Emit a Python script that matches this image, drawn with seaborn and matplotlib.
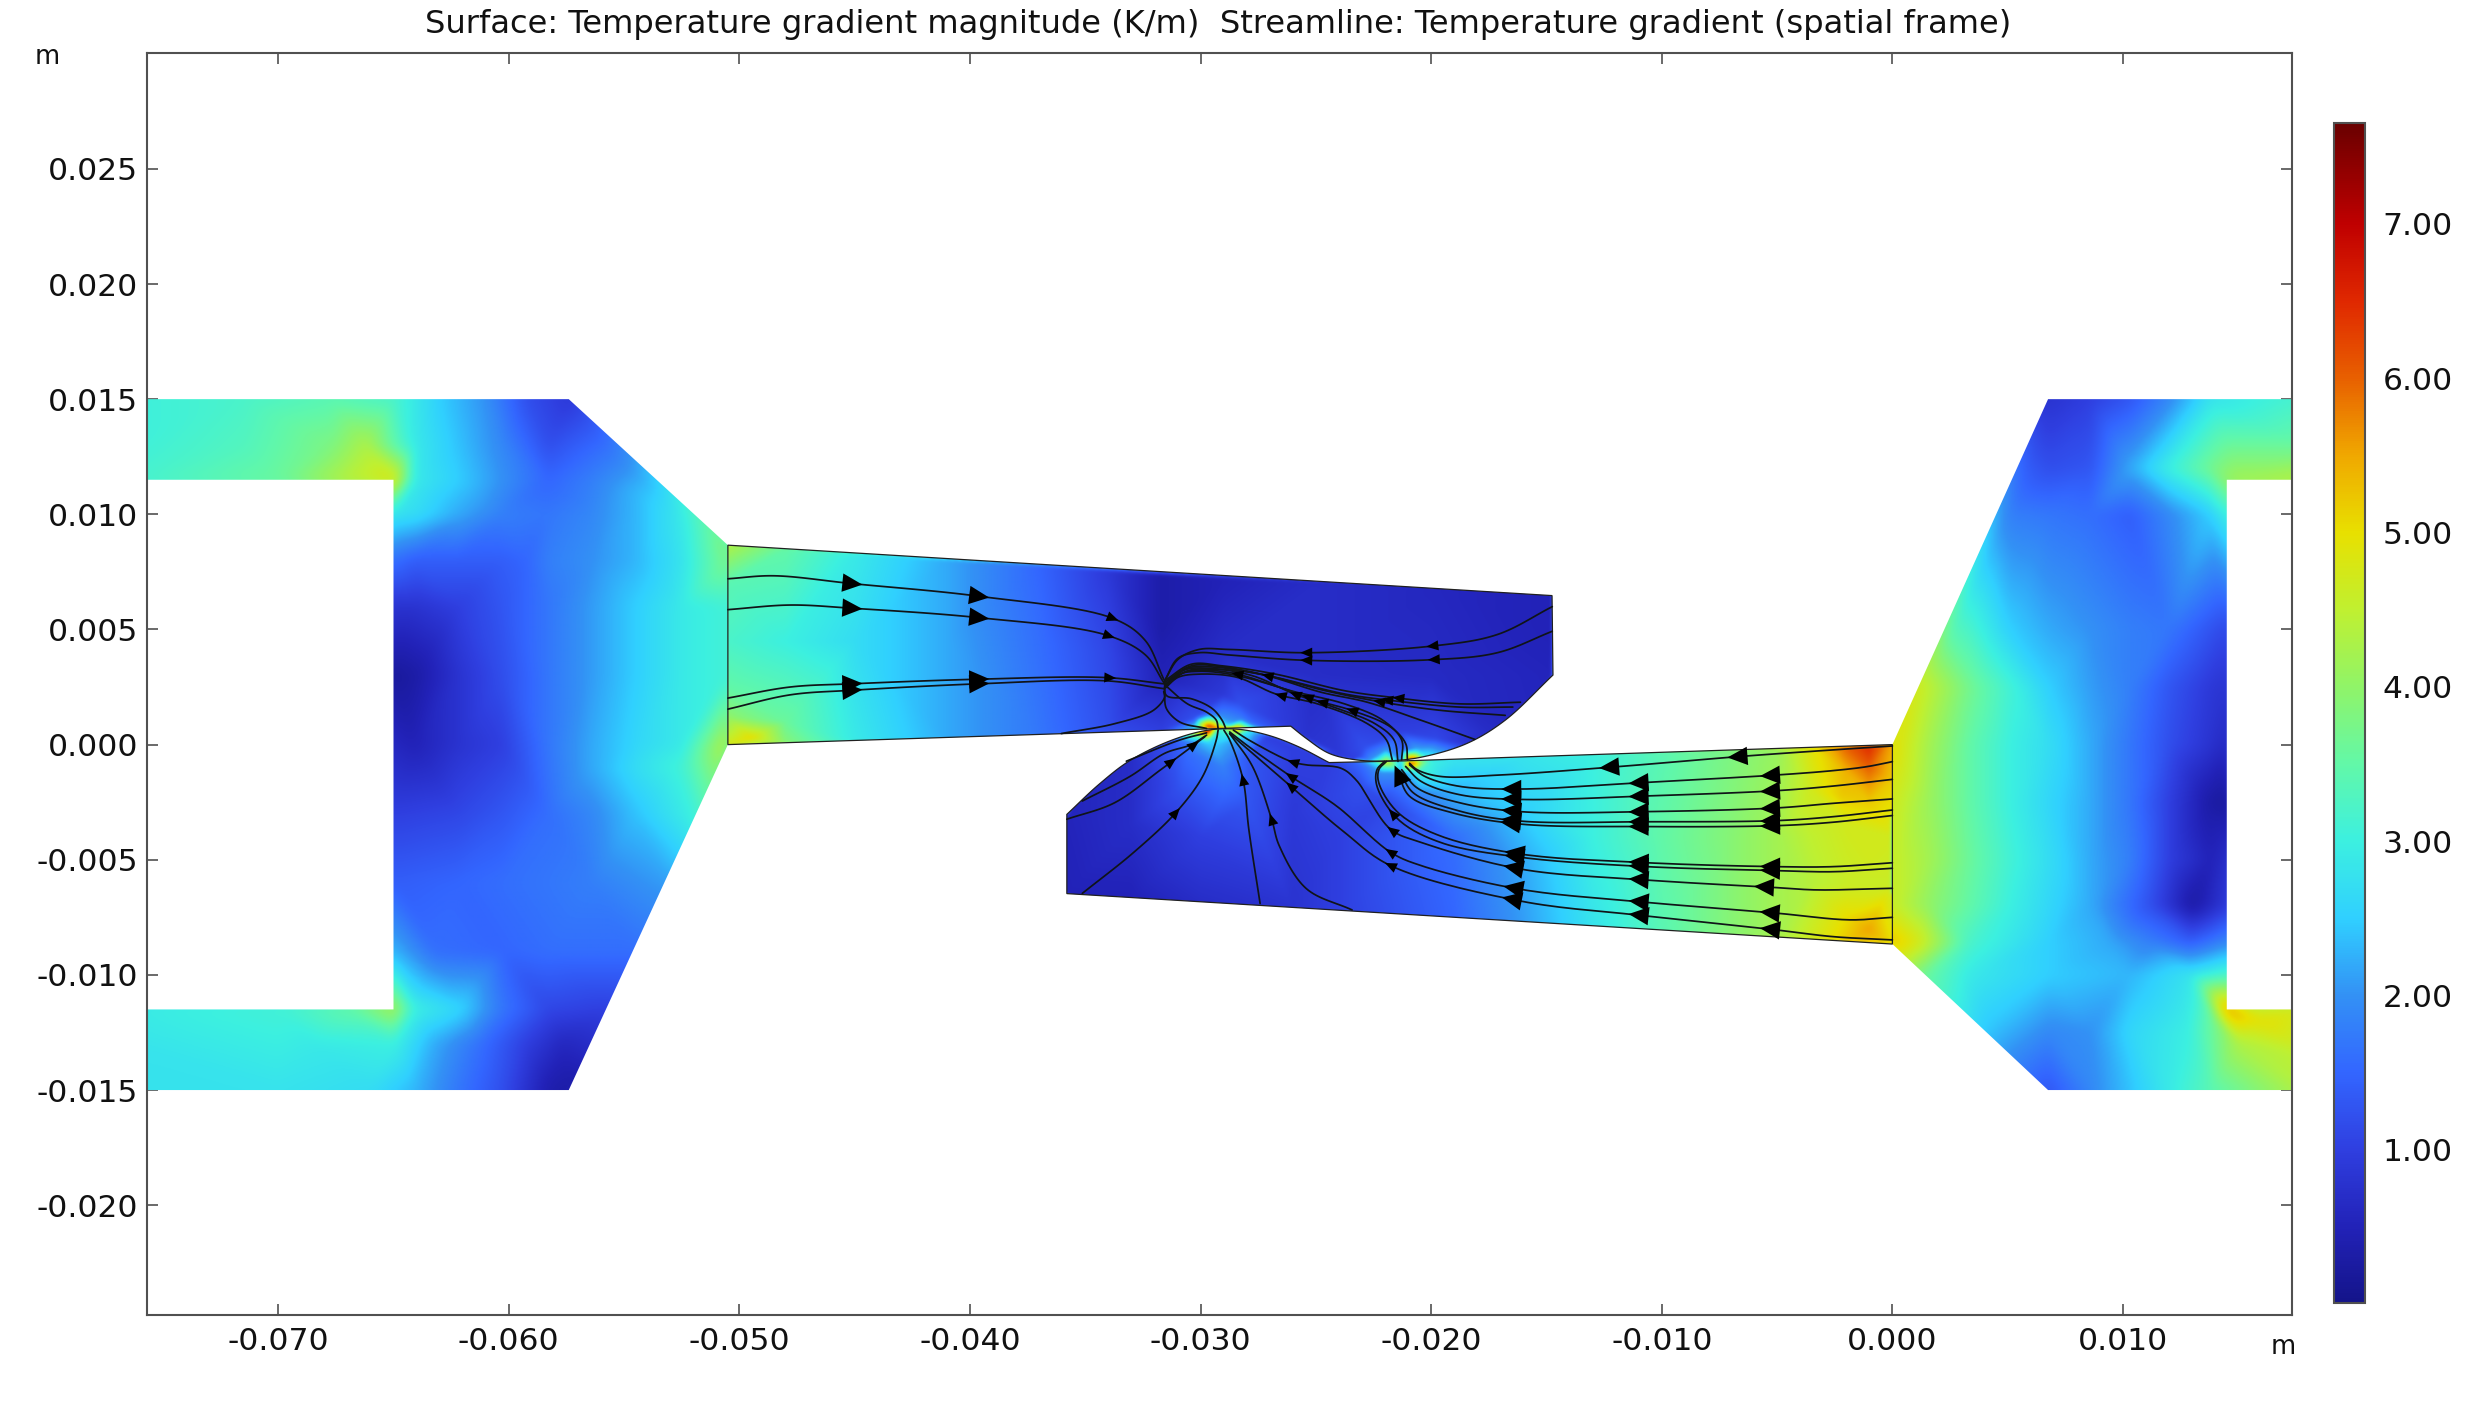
import numpy as np
import matplotlib
matplotlib.use("Agg")
import matplotlib.pyplot as plt
import matplotlib.tri as mtri
from matplotlib.colors import LinearSegmentedColormap
from matplotlib.patches import Polygon
import seaborn as sns

sns.set_theme(style="white")
plt.rcParams["font.family"] = ["DejaVu Sans"]

TITLE = "Surface: Temperature gradient magnitude (K/m)  Streamline: Temperature gradient (spatial frame)"
X_TICKS = [-0.070, -0.060, -0.050, -0.040, -0.030, -0.020, -0.010, 0.000, 0.010]
Y_TICKS = [-0.020, -0.015, -0.010, -0.005, 0.000, 0.005, 0.010, 0.015, 0.020, 0.025]
CB_TICKS = [1, 2, 3, 4, 5, 6, 7]
V_MIN, V_MAX = 0.01, 7.65
CMAP_VALUES = [0.01, 0.5, 1.0, 1.5, 2.0, 2.5, 3.0, 3.5, 4.0, 4.5, 5.0, 5.5, 6.0, 6.5, 7.0, 7.65]
CMAP_COLORS = ["#14148a", "#2222b8", "#2f3fe0", "#3366ff", "#3391f5", "#30d0ff", "#3cf0e0", "#62f8a8",
               "#90f468", "#c0f030", "#e8e000", "#f0a800", "#e86000", "#e02800", "#c00000", "#6a0000"]

# geometry outlines, mm
LEFT_BLOCK = [(-77, 15), (-57.4, 15), (-50.5, 8.66), (-50.5, 0), (-57.4, -15), (-77, -15), (-77, -11.5),
              (-65, -11.5), (-65, 11.5), (-77, 11.5)]
RIGHT_BLOCK = [(0, 0), (6.75, 15), (18, 15), (18, 11.5), (14.5, 11.5), (14.5, -11.5), (18, -11.5), (18, -15),
               (6.75, -15), (0, -8.66)]
UPPER_STRAIGHT = [(-26.09, 0.80), (-50.5, 0), (-50.5, 8.66), (-14.76, 6.47)]
UPPER_CURVE = [(-14.72, 3.02), (-16.79, 1.06), (-18.45, 0.05), (-20.45, -0.55), (-21.94, -0.71), (-23.27, -0.66),
               (-24.43, -0.38), (-25.42, 0.27), (-26.09, 0.80)]
LOWER_STRAIGHT = [(-24.43, -0.78), (-21.28, -0.71), (0, 0), (0, -8.66), (-35.8, -6.47)]
LOWER_CURVE = [(-35.8, -3.03), (-34.4, -1.72), (-33.06, -0.69), (-31.23, 0.20), (-29.66, 0.63), (-28.41, 0.67),
               (-27.08, 0.41), (-25.76, -0.09), (-24.43, -0.78)]

# field samples (x mm, y mm, K/m)
LEFT_NODES = [
    (-77, 15, 3.0), (-71.5, 15, 3.2), (-67.7, 15, 3.4), (-65, 15, 3.2), (-63, 15, 2.5), (-61, 15, 2.0), (-59.2, 15, 1.2), (-57.4, 15, 0.9),
    (-77, 13, 3.0), (-71.5, 13, 3.3), (-67.7, 13, 3.8), (-66.2, 13, 4.3), (-64.1, 13, 2.9), (-62.2, 13, 2.4), (-60.3, 13, 1.9), (-58.3, 13, 1.2), (-55.4, 12.4, 1.8),
    (-77, 11.5, 3.1), (-70, 11.5, 3.6), (-67, 11.5, 4.4), (-65, 11.5, 4.8), (-64.1, 11.5, 2.9), (-62.2, 11.5, 2.5), (-60.3, 11.5, 2.0), (-58.3, 11.5, 1.5), (-56.4, 11.5, 1.8), (-54.5, 11, 2.3),
    (-65, 10, 2.8), (-64.1, 10, 2.7), (-62.2, 10, 2.2), (-60.3, 10, 1.8), (-58.3, 10, 1.7), (-56.4, 10, 1.9), (-54.5, 10, 2.3), (-52.5, 10, 2.9),
    (-65, 8, 1.6), (-64.1, 8, 1.4), (-62.2, 8, 1.4), (-60.3, 8, 1.4), (-59.3, 8, 1.5), (-58.3, 8, 1.8), (-56.4, 8, 2.0), (-54.5, 8, 2.3), (-52.5, 8, 2.8), (-50.5, 8, 3.8),
    (-65, 6, 0.8), (-64.1, 6, 0.8), (-62.2, 6, 1.0), (-60.3, 6, 1.3), (-58.3, 6, 1.7), (-56.4, 6, 2.1), (-54.5, 6, 2.5), (-52.5, 6, 2.9), (-50.5, 6, 3.1),
    (-65, 3, 0.2), (-64.1, 3, 0.3), (-62.2, 3, 0.8), (-60.3, 3, 1.2), (-58.3, 3, 1.7), (-56.4, 3, 2.1), (-54.5, 3, 2.5), (-52.5, 3, 2.9), (-50.5, 3, 3.1),
    (-65, 0, 0.6), (-64.1, 0, 0.5), (-62.2, 0, 0.8), (-60.3, 0, 1.0), (-58.3, 0, 1.7), (-56.4, 0, 2.2), (-54.5, 0, 2.6), (-52.5, 0, 2.9), (-50.5, 0, 4.4),
    (-56.4, -1, 2.2), (-54.5, -1, 2.7), (-52.5, -1, 3.1),
    (-65, -3, 1.0), (-62.2, -3, 1.1), (-60.3, -3, 1.3), (-58.3, -3, 1.6), (-56.4, -3, 1.9), (-54.5, -3, 2.4), (-52, -3.2, 3.0),
    (-65, -6, 1.4), (-62.2, -6, 1.5), (-60.3, -6, 1.6), (-58.3, -6, 1.7), (-56.4, -6, 1.8), (-53.2, -6, 2.1),
    (-65, -9, 2.3), (-63.2, -9, 1.6), (-60.3, -9, 1.5), (-58.3, -9, 1.6), (-54.6, -9, 1.6),
    (-77, -11.5, 2.9), (-70, -11.5, 3.1), (-67, -11.5, 3.5), (-65, -11.5, 4.2), (-64.1, -11.5, 3.0), (-62.2, -11.5, 2.6), (-60.3, -11.5, 1.7), (-58.3, -11.5, 1.1), (-55.8, -11.5, 1.0),
    (-77, -13, 2.8), (-68.5, -13, 2.9), (-65, -13, 3.0), (-63.2, -13, 2.2), (-61.2, -13, 1.6), (-59.3, -13, 1.0), (-57.7, -13, 0.6),
    (-77, -15, 2.8), (-70, -15, 2.8), (-66, -15, 2.7), (-64.1, -15, 2.3), (-62.2, -15, 1.7), (-60.3, -15, 1.2), (-58.3, -15, 0.4), (-57.4, -15, 0.3),
    (-50.5, 8.66, 3.9),
]
RIGHT_NODES = [
    (6.75, 15, 0.8), (8.6, 15, 1.0), (10.3, 15, 1.3), (12, 15, 1.9), (13.8, 15, 2.8), (18, 15, 3.2),
    (6.8, 12, 1.2), (8.6, 12, 1.3), (10.3, 12, 2.2), (12, 12, 3.0), (13.8, 12, 3.7), (18, 13, 3.6),
    (18, 11.5, 4.4), (15, 11.5, 4.2), (14.5, 11.5, 4.0),
    (5.1, 10, 1.8), (6.8, 10, 1.7), (8.6, 10, 1.6), (10.3, 10, 1.4), (12, 10, 1.9), (13.8, 10, 2.5), (14.5, 10, 3.0),
    (2.5, 5, 3.4), (3.35, 5, 3.2), (5.1, 5, 2.5), (6.8, 5, 2.2), (8.6, 5, 2.0), (10.3, 5, 1.8), (12, 5, 1.7), (14.5, 5, 1.1),
    (1.1, 2.5, 4.7), (3.35, 2.5, 3.7), (5.1, 2.5, 3.1), (6.8, 2.5, 2.5), (8.6, 2.5, 2.1), (10.3, 2.5, 1.8), (12, 2.5, 1.3), (13.8, 2.5, 0.9), (14.5, 2.5, 0.8),
    (0, 0, 5.0), (1.6, 0, 4.2), (3.35, 0, 3.5), (5.1, 0, 3.0), (6.8, 0, 2.7), (8.6, 0, 2.2), (10.3, 0, 1.7), (12, 0, 1.2), (13.8, 0, 0.8), (14.5, 0, 0.6),
    (0, -2.5, 4.7), (1.6, -2.5, 4.1), (3.35, -2.5, 3.5), (5.1, -2.5, 3.0), (6.8, -2.5, 2.6), (8.6, -2.5, 2.2), (10.3, -2.5, 1.7), (12, -2.5, 1.0), (13.8, -2.5, 0.3), (14.5, -2.5, 0.2),
    (0, -5, 4.6), (1.6, -5, 4.2), (3.35, -5, 3.6), (5.1, -5, 3.1), (6.8, -5, 2.7), (8.6, -5, 2.2), (10.3, -5, 1.8), (12, -5, 1.0), (13.8, -5, 0.5), (14.5, -5, 0.7),
    (0, -7, 4.6), (1.6, -7, 4.0), (5.1, -7, 3.0), (8.6, -7, 2.2), (11.2, -7, 1.2), (13, -7, 0.3), (14.5, -7, 0.9),
    (0, -8.66, 5.3), (1.1, -8.6, 4.8), (3.35, -8.6, 3.2), (6.8, -8.6, 2.5), (9.4, -8.6, 2.2), (11.2, -8.6, 1.8), (12.9, -8.6, 1.4), (14.5, -8.6, 1.9),
    (1.4, -10, 3.6), (3.35, -10, 2.9), (6.8, -10, 2.5), (10.3, -10, 2.3), (12.9, -10, 2.8), (14.5, -10, 3.2),
    (4.2, -12.5, 2.4), (6.8, -12.5, 1.9), (8.6, -12.5, 2.0), (10.3, -12.5, 2.6), (12.9, -12.5, 3.0), (14, -12, 3.7),
    (14.5, -11.5, 5.5), (16, -12, 5.0), (18, -11.5, 4.7), (18, -13.5, 4.5), (15, -13, 4.3),
    (6.75, -15, 1.3), (8.6, -15, 1.9), (10.3, -15, 2.4), (12, -15, 2.9), (13.8, -15, 3.4), (18, -15, 4.4),
]
UPPER_NODES = [
    (-50.5, 8.66, 4.3), (-50.5, 7, 3.4), (-50.5, 4.5, 3.2), (-50.5, 2.5, 3.5), (-50.5, 1.2, 4.0), (-50.5, 0, 4.7), (-49.5, 0.3, 5.0),
    (-48, 8.5, 3.5), (-48, 4.5, 3.0), (-48, 1, 3.6), (-48, 0.08, 3.9), (-45, 8.3, 2.9), (-45, 4.5, 2.7),
    (-45, 0.17, 2.9), (-41, 8.0, 2.2), (-41, 4.5, 2.2), (-41, 0.3, 2.2), (-37, 7.8, 1.5), (-37, 4.5, 1.6),
    (-37, 0.45, 1.7), (-34, 7.5, 0.9), (-34, 4, 1.1), (-34, 0.55, 1.2), (-31.7, 7.4, 0.35), (-31.7, 5, 0.35),
    (-31.7, 3, 0.5), (-31.7, 0.6, 1.0), (-29, 7.2, 0.5), (-29, 4, 0.7), (-29, 2.2, 0.9),
    (-29.66, 0.75, 7.0), (-30.3, 0.72, 2.6), (-30.2, 1.2, 1.2), (-29.66, 1.35, 1.5), (-29.1, 1.2, 2.0),
    (-28.8, 0.8, 2.5), (-28.5, 0.77, 5.5), (-28.2, 1.1, 1.8), (-27.5, 0.8, 1.5), (-28.3, 1.8, 1.2),
    (-26.09, 0.8, 0.9), (-25, 7, 0.7), (-25, 3, 0.7), (-25.4, 0.3, 0.8), (-24, -0.4, 0.9), (-22.9, -0.1, 1.2),
    (-21.94, -0.71, 4.5), (-21.3, -0.7, 2.0), (-20.85, -0.7, 7.0), (-21.94, -0.2, 2.0), (-21.3, -0.2, 1.4),
    (-20.6, -0.2, 2.2), (-20.2, -0.55, 3.0), (-22.6, -0.66, 2.0), (-23.27, -0.66, 1.0), (-21.3, 0.6, 1.0),
    (-19.8, 0.3, 1.1), (-18.45, 0.05, 0.8), (-17.6, 0.6, 0.7), (-16.79, 1.06, 0.6), (-20, 6.8, 0.6), (-20, 3, 0.65),
    (-14.76, 6.47, 0.5), (-14.72, 3.02, 0.55), (-14.76, 5, 0.5),
]
LOWER_NODES = [
    (-35.8, -3.03, 0.55), (-35.8, -6.47, 0.5), (-33.06, -0.59, 0.7), (-33, -3.5, 0.7), (-33, -6.7, 0.5),
    (-31.23, 0.2, 1.3), (-30.5, -0.3, 1.6), (-31, -2, 1.2), (-30, -4, 1.0), (-30, -6.8, 0.7),
    (-29.66, 0.6, 7.0), (-30.2, 0.45, 4.0), (-30.3, 0.1, 1.9), (-29.66, 0.1, 2.5), (-29.2, 0.65, 3.0),
    (-29.3, 0.0, 2.4), (-28.9, 0.5, 3.0), (-28.41, 0.67, 5.5), (-28.0, 0.65, 3.0), (-28.4, 0.1, 2.0),
    (-27.08, 0.41, 1.0), (-27.8, -0.4, 1.3), (-29, -1, 1.8), (-29, -2.2, 1.5), (-28, -2.5, 1.3),
    (-26, -0.3, 1.0), (-25.76, -0.09, 1.0), (-24.43, -0.78, 1.0), (-26, -3, 0.9), (-26, -7.1, 0.8),
    (-24, -4, 1.0), (-24, -7.2, 1.0), (-23.2, -0.75, 1.5), (-22.4, -0.72, 3.0), (-21.94, -0.71, 5.0),
    (-21.3, -0.71, 2.5), (-20.85, -0.72, 7.0), (-20.4, -0.7, 4.2), (-22.2, -1.2, 2.0), (-21.3, -1.2, 2.0),
    (-20.5, -1.1, 3.2), (-19.9, -0.69, 3.0), (-23, -1.8, 1.2), (-22, -2.5, 1.1), (-20.5, -2.2, 1.8),
    (-19, -0.66, 2.8), (-19, -2, 2.3), (-19, -4, 1.6), (-19, -7.6, 1.5), (-16, -0.55, 2.8), (-16, -3, 2.5),
    (-16, -5, 2.2), (-16, -7.7, 2.1), (-13, -0.45, 3.0), (-13, -4, 3.0), (-13, -7.9, 2.8), (-10, -0.35, 3.4),
    (-10, -4, 3.5), (-10, -8.05, 3.4), (-7, -0.25, 3.8), (-7, -4, 3.9), (-7, -8.2, 3.9), (-5, -0.17, 4.1),
    (-5, -4, 4.2), (-5, -8.35, 4.2), (-3.5, -0.12, 4.9), (-3.5, -2, 4.7), (-3.5, -4, 4.5), (-3.5, -6, 4.4),
    (-3.5, -8.45, 4.7), (-2, -0.1, 6.0), (-2, -1.2, 5.4), (-2.2, -2.2, 5.2), (-2, -3.5, 4.7), (-2, -6, 4.6),
    (-2, -7.4, 5.0), (-2, -8.5, 5.2), (-1, -0.05, 6.5), (-1, -1, 6.0), (-1, -2.5, 5.2), (-1, -5, 4.7),
    (-1, -8, 5.5), (-1, -8.6, 5.2), (0, 0, 5.5), (0, -1.5, 5.2), (0, -4, 4.7), (0, -6, 4.6), (0, -8.66, 5.0),
]

# streamlines, mm, in direction of travel
R1 = [(0, -0.06), (-2.57, -0.23), (-6.4, -0.50), (-11.96, -0.96), (-17.02, -1.32), (-19.62, -1.38), (-20.61, -1.09), (-20.94, -0.81)]
R2 = [(0, -0.74), (-1.12, -0.96), (-2.57, -1.13), (-5.02, -1.32), (-10.66, -1.64), (-16.15, -1.93), (-18.79, -1.81), (-20.28, -1.38), (-20.94, -0.88)]
R3 = [(0, -1.51), (-2.57, -1.80), (-5.02, -2.0), (-10.66, -2.23), (-16.15, -2.38), (-18.79, -2.17), (-20.45, -1.59), (-21.11, -0.95)]
R4 = [(0, -2.36), (-2.57, -2.55), (-5.02, -2.75), (-10.66, -2.91), (-16.15, -2.91), (-18.79, -2.52), (-20.61, -1.88), (-21.28, -1.09)]
R5 = [(0, -2.84), (-2.57, -3.13), (-5.02, -3.30), (-10.66, -3.35), (-16.15, -3.32), (-18.79, -2.88), (-20.78, -2.09), (-21.36, -1.16)]
R6 = [(0, -3.08), (-2.57, -3.37), (-5.02, -3.52), (-10.66, -3.56), (-16.15, -3.45), (-19.12, -2.95), (-20.94, -2.24), (-21.44, -1.24)]
R7 = [(0, -5.13), (-2.57, -5.30), (-5.02, -5.30), (-10.66, -5.13), (-16.15, -4.75), (-19.62, -3.96), (-21.44, -2.95), (-22.27, -1.67), (-22.27, -1.09), (-21.94, -0.73)]
R8 = [(0, -5.37), (-2.57, -5.52), (-5.02, -5.47), (-10.66, -5.30), (-16.15, -4.89), (-19.62, -4.24), (-21.44, -3.24), (-22.35, -1.81), (-22.35, -1.09), (-22.02, -0.73)]
R9 = [(0, -6.24), (-3.29, -6.31), (-5.02, -6.21), (-10.66, -5.88), (-16.15, -5.40), (-20.45, -4.24), (-21.77, -3.67), (-23.27, -1.52), (-23.93, -1.02), (-25.42, -0.88), (-26.09, -0.73), (-27.91, 0.2), (-28.58, 0.63)]
R10 = [(0, -7.50), (-1.84, -7.61), (-5.02, -7.32), (-10.66, -6.85), (-16.15, -6.28), (-20.45, -5.25), (-21.77, -4.67), (-24.1, -2.67), (-26.09, -1.38), (-27.91, -0.09), (-28.74, 0.55)]
R11 = [(0, -8.48), (-2.57, -8.34), (-5.02, -8.05), (-10.66, -7.44), (-16.15, -6.79), (-21.77, -5.25), (-23.76, -3.81), (-26.09, -1.81), (-28.08, -0.09), (-28.74, 0.48)]
U1 = [(-14.75, 5.99), (-17.13, 4.78), (-19.95, 4.28), (-25.42, 3.99), (-28.74, 4.13), (-30.07, 4.13), (-30.98, 3.70), (-31.56, 2.77)]
U2 = [(-14.75, 4.92), (-17.13, 3.99), (-20.1, 3.68), (-25.42, 3.66), (-28.74, 3.89), (-30.07, 3.99), (-30.98, 3.75), (-31.56, 2.77)]
D1 = [(-16.13, 1.84), (-18.79, 1.77), (-21.77, 2.06), (-23.76, 2.34), (-26.75, 3.06), (-29.07, 3.42), (-30.4, 3.49), (-31.56, 2.77)]
D2 = [(-16.46, 1.63), (-18.79, 1.63), (-21.77, 1.92), (-23.76, 2.2), (-26.75, 2.92), (-29.07, 3.38), (-30.4, 3.42), (-31.56, 2.70)]
D3 = [(-16.79, 1.27), (-19.62, 1.49), (-22.1, 1.84), (-24.59, 2.34), (-27.08, 2.99), (-29.24, 3.35), (-30.57, 3.32), (-31.53, 2.63)]
D4 = [(-18.12, 0.23), (-20.45, 1.06), (-22.77, 1.84), (-24.76, 2.27), (-27.42, 3.06), (-29.41, 3.27), (-30.57, 3.2), (-31.53, 2.56)]
C1 = [(-21.28, -0.66), (-21.28, 0.2), (-22.1, 1.06), (-23.76, 1.77), (-26.09, 2.34), (-28.41, 3.06), (-29.74, 3.23), (-30.73, 3.13), (-31.53, 2.49)]
C2 = [(-21.44, -0.73), (-21.61, 0.2), (-22.44, 0.91), (-24.43, 1.7), (-26.59, 2.49), (-28.74, 3.06), (-30.07, 3.18), (-30.9, 3.06), (-31.53, 2.49)]
C3 = [(-21.69, -0.66), (-21.94, 0.2), (-22.77, 0.91), (-24.93, 1.77), (-26.75, 2.2), (-28.41, 2.92), (-30.07, 3.06), (-30.98, 2.92), (-31.53, 2.46)]
C4 = [(-21.03, -0.66), (-21.11, 0.05), (-21.77, 0.77), (-23.43, 1.48), (-25.76, 2.13), (-27.75, 2.99), (-29.74, 3.32), (-30.73, 3.23), (-31.53, 2.6)]
A1 = [(-50.5, 7.2), (-48.5, 7.33), (-45.1, 6.99), (-39.6, 6.44), (-33.8, 5.48), (-32.4, 4.52), (-31.6, 2.84)]
A2 = [(-50.5, 5.86), (-47.8, 6.06), (-45.1, 5.92), (-39.6, 5.51), (-34.1, 4.76), (-32.4, 3.9), (-31.6, 2.7)]
A3 = [(-50.5, 2.02), (-47.8, 2.5), (-45.1, 2.64), (-39.6, 2.84), (-34.1, 2.91), (-31.6, 2.64)]
A4 = [(-50.5, 1.54), (-47.8, 2.16), (-45.1, 2.36), (-39.6, 2.64), (-34.1, 2.77), (-31.6, 2.43)]
N1 = [(-31.56, 2.77), (-31.48, 2.13), (-30.4, 1.99), (-29.49, 1.56), (-29.07, 1.06), (-28.91, 0.7)]
N2 = [(-31.56, 2.6), (-30.57, 1.77), (-29.74, 1.41), (-29.32, 1.06), (-29.24, 0.7)]
N3 = [(-31.56, 2.5), (-31.56, 2.13), (-31.48, 1.56), (-30.9, 0.98), (-29.74, 0.7)]
E1 = [(-31.6, 2.3), (-31.56, 2.06), (-32.06, 1.48), (-33.72, 0.91), (-36.04, 0.48)]
P1 = [(-35.8, -3.24), (-33.72, -2.52), (-31.73, -1.09), (-30.57, -0.23), (-29.82, 0.34)]
P2 = [(-35.13, -2.45), (-33.06, -1.38), (-31.56, -0.38), (-30.4, 0.0), (-29.74, 0.41)]
P3 = [(-33.22, -0.72), (-30.9, 0.2), (-29.74, 0.51)]
P4 = [(-35.13, -6.46), (-32.89, -4.67), (-31.07, -2.95), (-29.91, -1.38), (-29.32, 0.2), (-29.24, 0.63)]
P5 = [(-27.42, -6.9), (-27.91, -3.67), (-28.16, -1.52), (-28.74, 0.2), (-28.99, 0.63)]
P6 = [(-23.43, -7.18), (-25.42, -6.25), (-26.59, -4.39), (-26.92, -3.24), (-27.75, -0.95), (-28.74, 0.48)]
STREAMLINES = [R1, R2, R3, R4, R5, R6, R7, R8, R9, R10, R11, U1, U2, D1, D2, D3, D4, C1, C2, C3, C4,
               A1, A2, A3, A4, N1, N2, N3, E1, P1, P2, P3, P4, P5, P6]

# arrow heads: (x mm, y mm)
ARROWS_BIG = [
    (-6.76, -0.53), (-12.32, -0.99),
    (-5.46, -1.35), (-11.02, -1.66), (-16.5, -1.95), (-5.46, -2.03), (-11.02, -2.24), (-16.5, -2.38),
    (-5.46, -2.77), (-11.02, -2.91), (-16.5, -2.91), (-5.46, -3.31), (-11.02, -3.35), (-16.5, -3.3),
    (-5.46, -3.53), (-11.02, -3.56), (-16.5, -3.42), (-5.46, -5.29), (-11.02, -5.12), (-16.5, -4.7),
    (-5.46, -5.46), (-11.02, -5.28), (-16.5, -4.84), (-5.46, -6.19), (-11.02, -5.86), (-16.5, -5.33),
    (-5.46, -7.28), (-11.02, -6.82), (-16.5, -6.2), (-5.46, -8.0), (-11.02, -7.4), (-16.5, -6.7),
    (-45.1, 6.99), (-39.6, 6.44), (-45.1, 5.92), (-39.6, 5.51), (-45.1, 2.64), (-39.6, 2.84), (-45.1, 2.36),
    (-39.6, 2.64), (-21.4, -1.3),
]
ARROWS_SMALL = [
    (-33.9, 5.4), (-33.9, 4.8), (-33.9, 2.9), (-21.69, -2.95), (-21.69, -3.67), (-21.77, -4.67), (-21.77, -5.25),
    (-26.0, -0.73), (-26.09, -1.38), (-26.09, -1.81), (-19.87, 4.28), (-25.42, 3.99), (-19.9, 3.68), (-25.3, 3.66),
    (-21.5, 2.0), (-21.85, 1.9), (-22.3, 1.84), (-23.43, 1.5), (-24.76, 1.8), (-25.4, 2.06), (-25.9, 2.1),
    (-26.5, 2.2), (-27.1, 3.0), (-28.4, 3.06), (-31.07, -0.95), (-30.3, -0.02), (-31.07, -2.95), (-28.16, -1.52),
    (-26.92, -3.24),
]

BIG_HEAD = (0.87, 0.80)
SMALL_HEAD = (0.52, 0.44)


def smooth(points, n=16):
    """Centripetal Catmull-Rom through the read points, only for drawing the curve."""
    p = np.array(points, float)
    if len(p) < 3:
        return p
    p = np.vstack([2 * p[0] - p[1], p, 2 * p[-1] - p[-2]])
    out = []
    for i in range(1, len(p) - 2):
        p0, p1, p2, p3 = p[i - 1], p[i], p[i + 1], p[i + 2]
        t0 = 0.0
        t1 = t0 + np.linalg.norm(p1 - p0) ** 0.5
        t2 = t1 + np.linalg.norm(p2 - p1) ** 0.5
        t3 = t2 + np.linalg.norm(p3 - p2) ** 0.5
        t = np.linspace(t1, t2, n, endpoint=False)[:, None]
        a1 = (t1 - t) / (t1 - t0) * p0 + (t - t0) / (t1 - t0) * p1
        a2 = (t2 - t) / (t2 - t1) * p1 + (t - t1) / (t2 - t1) * p2
        a3 = (t3 - t) / (t3 - t2) * p2 + (t - t2) / (t3 - t2) * p3
        b1 = (t2 - t) / (t2 - t0) * a1 + (t - t0) / (t2 - t0) * a2
        b2 = (t3 - t) / (t3 - t1) * a2 + (t - t1) / (t3 - t1) * a3
        out.append((t2 - t) / (t2 - t1) * b1 + (t - t1) / (t2 - t1) * b2)
    out.append(p[-2][None, :])
    return np.vstack(out)


def blur(z, sigma):
    if sigma <= 0:
        return z
    r = int(3 * sigma)
    k = np.exp(-0.5 * (np.arange(-r, r + 1) / sigma) ** 2)
    k /= k.sum()
    pad = np.pad(z, r, mode="edge")
    pad = np.apply_along_axis(lambda m: np.convolve(m, k, mode="same"), 0, pad)
    pad = np.apply_along_axis(lambda m: np.convolve(m, k, mode="same"), 1, pad)
    return pad[r:-r, r:-r]


def field(nodes, outline, step, sigma):
    """Sample the read node values on a grid through a triangulation."""
    a = np.array(nodes, float)
    tri = mtri.Triangulation(a[:, 0], a[:, 1])
    interp = mtri.LinearTriInterpolator(tri, a[:, 2])
    o = np.array(outline)
    xs = np.arange(o[:, 0].min() - step, o[:, 0].max() + 2 * step, step)
    ys = np.arange(o[:, 1].min() - step, o[:, 1].max() + 2 * step, step)
    gx, gy = np.meshgrid(xs, ys)
    z = interp(gx, gy).filled(np.nan)
    for _ in range(40):
        if not np.isnan(z).any():
            break
        st = np.stack([np.roll(z, 1, 0), np.roll(z, -1, 0), np.roll(z, 1, 1), np.roll(z, -1, 1)])
        cnt = (~np.isnan(st)).sum(axis=0)
        fill = np.nansum(st, axis=0) / np.maximum(cnt, 1)
        z = np.where(np.isnan(z) & (cnt > 0), fill, z)
    z = np.where(np.isnan(z), np.nanmedian(z), z)
    return blur(z, sigma), (xs[0], xs[-1], ys[0], ys[-1])


W, H = 2476, 1409
fig = plt.figure(figsize=(W / 100, H / 100), dpi=100, facecolor="white")
AX_L, AX_R, AX_T, AX_B = 147, 2291.5, 53, 1315
ax = fig.add_axes([AX_L / W, 1 - AX_B / H, (AX_R - AX_L) / W, (AX_B - AX_T) / H])

stops = [(v - V_MIN) / (V_MAX - V_MIN) for v in CMAP_VALUES]
cmap = LinearSegmentedColormap.from_list("field", list(zip(stops, CMAP_COLORS)), N=512)

UPPER_BLADE = np.vstack([np.array(UPPER_STRAIGHT), smooth(UPPER_CURVE)])
LOWER_BLADE = np.vstack([np.array(LOWER_STRAIGHT), smooth(LOWER_CURVE)])

mappable = None
for nodes, outline, step, sigma in [(LEFT_NODES, LEFT_BLOCK, 0.04, 6), (RIGHT_NODES, RIGHT_BLOCK, 0.04, 6),
                                    (UPPER_NODES, UPPER_BLADE, 0.02, 4), (LOWER_NODES, LOWER_BLADE, 0.02, 4)]:
    z, ext = field(nodes, outline, step, sigma)
    mappable = ax.imshow(z, origin="lower", extent=[e / 1000 for e in ext], cmap=cmap, vmin=V_MIN, vmax=V_MAX,
                         interpolation="bilinear", aspect="auto", zorder=1)
    clip = Polygon(np.array(outline) / 1000, closed=True, transform=ax.transData, fc="none", ec="none")
    ax.add_patch(clip)
    mappable.set_clip_path(clip)
for outline in (UPPER_BLADE, LOWER_BLADE):
    ax.add_patch(Polygon(np.array(outline) / 1000, closed=True, fc="none", ec="#202020", lw=0.9, zorder=3))

curves = []
for line in STREAMLINES:
    c = smooth(line) / 1000
    curves.append(c)
    sns.lineplot(x=c[:, 0], y=c[:, 1], sort=False, estimator=None, color="#101418", lw=1.25, ax=ax, zorder=4, legend=False)

all_pts = np.vstack(curves)
all_dirs = np.vstack([np.gradient(c, axis=0) for c in curves])
for arrows, (length, width) in ((ARROWS_BIG, BIG_HEAD), (ARROWS_SMALL, SMALL_HEAD)):
    for ax_x, ax_y in arrows:
        target = np.array([ax_x, ax_y]) / 1000
        k = np.argmin(np.sum((all_pts - target) ** 2, axis=1))
        d = all_dirs[k] / np.linalg.norm(all_dirs[k])
        n = np.array([-d[1], d[0]])
        c = all_pts[k]
        head = np.array([c + d * length / 2000, c - d * length / 2000 + n * width / 2000,
                         c - d * length / 2000 - n * width / 2000])
        ax.fill(head[:, 0], head[:, 1], color="black", lw=0, zorder=5)

ax.set_xlim((AX_L - 1892.4) / 23060, (AX_R - 1892.4) / 23060)
ax.set_ylim((744.6 - AX_B) / 23030, (744.6 - AX_T) / 23030)
ax.set_xticks(X_TICKS)
ax.set_yticks(Y_TICKS)
ax.set_xticklabels([f"{t:.3f}" for t in X_TICKS])
ax.set_yticklabels([f"{t:.3f}" for t in Y_TICKS])
ax.tick_params(direction="in", length=8, width=1.2, color="#505050", labelcolor="#111111", labelsize=22.6,
               top=True, right=True, bottom=True, left=True)
ax.tick_params(axis="x", pad=9)
ax.tick_params(axis="y", pad=6.5)
ax.grid(False)
for s in ax.spines.values():
    s.set_visible(True)
    s.set_color("#505050")
    s.set_linewidth(1.5)

fig.text(1218 / W, 1 - 24 / H, TITLE, ha="center", va="center", fontsize=23.1, color="#111111")
fig.text(47 / W, 1 - 57 / H, "m", ha="center", va="center", fontsize=18.5, color="#111111")
fig.text(2283 / W, 1 - 1347 / H, "m", ha="center", va="center", fontsize=18.5, color="#111111")

cax = fig.add_axes([2333.5 / W, 1 - 1302.7 / H, 31 / W, (1302.7 - 123.3) / H])
cb = fig.colorbar(mappable, cax=cax)
cb.set_ticks(CB_TICKS)
cb.set_ticklabels([f"{t:.2f}" for t in CB_TICKS])
cax.tick_params(direction="in", length=5, width=1.2, color="#303030", labelsize=22.6, labelcolor="#111111",
                left=True, right=True, pad=13)
cb.outline.set_edgecolor("#505050")
cb.outline.set_linewidth(1.5)

fig.savefig("out.png", dpi=100, facecolor="white")
